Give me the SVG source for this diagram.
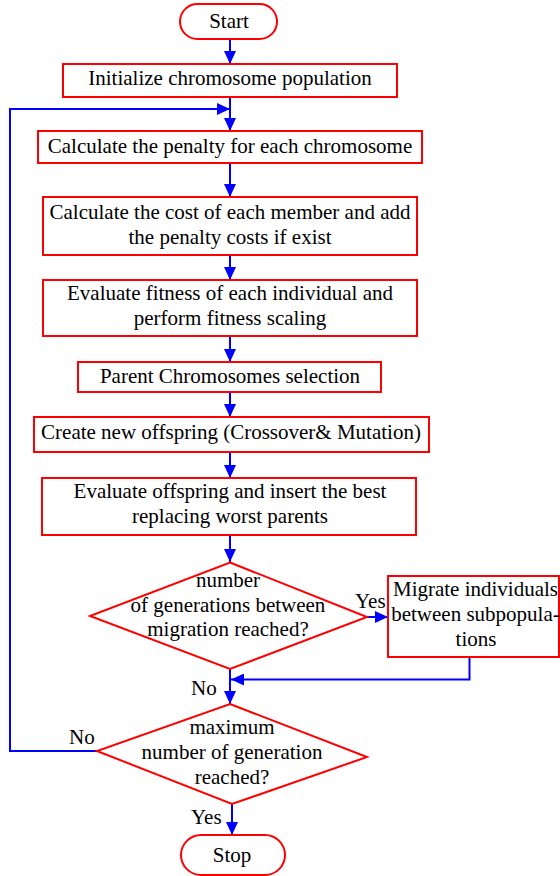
<svg xmlns="http://www.w3.org/2000/svg" width="560" height="876" viewBox="0 0 560 876" font-family="'Liberation Serif', 'Times New Roman', serif" font-size="21">
<style>
.n{fill:#fff;stroke:#f00;stroke-width:2}
.t{text-anchor:middle}
.c{fill:none;stroke:#00f;stroke-width:2}
</style>
<defs>
<marker id="ah" markerUnits="userSpaceOnUse" markerWidth="13" markerHeight="12" refX="13" refY="6" orient="auto">
<path d="M0,0 L13,6 L0,12 z" fill="#00f"/>
</marker>
</defs>
<rect width="560" height="876" fill="#fff"/>
<g id="connectors">
<line class="c" x1="230" y1="39" x2="230" y2="64" marker-end="url(#ah)"/>
<line class="c" x1="230" y1="97" x2="230" y2="131" marker-end="url(#ah)"/>
<polyline class="c" points="98,751 10,751 10,109 230,109" marker-end="url(#ah)"/>
<line class="c" x1="230" y1="163" x2="230" y2="197" marker-end="url(#ah)"/>
<line class="c" x1="230" y1="255" x2="230" y2="280" marker-end="url(#ah)"/>
<line class="c" x1="230" y1="336" x2="230" y2="362" marker-end="url(#ah)"/>
<line class="c" x1="230" y1="392" x2="230" y2="417" marker-end="url(#ah)"/>
<line class="c" x1="230" y1="452" x2="230" y2="478" marker-end="url(#ah)"/>
<line class="c" x1="230" y1="535" x2="230" y2="562" marker-end="url(#ah)"/>
<line class="c" x1="367" y1="617" x2="388" y2="617" marker-end="url(#ah)"/>
<polyline class="c" points="469.5,657 469.5,679.5 231,679.5" marker-end="url(#ah)"/>
<line class="c" x1="230" y1="669" x2="230" y2="704" marker-end="url(#ah)"/>
<line class="c" x1="232" y1="804" x2="232" y2="835" marker-end="url(#ah)"/>
<text x="355" y="608" font-family="Liberation Serif">Yes</text>
<text x="191" y="695" font-family="Liberation Serif">No</text>
<text x="69" y="744" font-family="Liberation Serif">No</text>
<text x="191" y="824" font-family="Liberation Serif">Yes</text>
</g>
<g id="start" font-family="Liberation Serif">
<rect class="n" x="180" y="4" width="97" height="35" rx="17.5"/>
<text class="t" x="229" y="28">Start</text>
</g>
<g id="init" font-family="Liberation Serif">
<rect class="n" x="63" y="64" width="334" height="33"/>
<text class="t" x="230" y="85">Initialize chromosome population</text>
</g>
<g id="penalty" font-family="Liberation Serif">
<rect class="n" x="38" y="131" width="384" height="32"/>
<text class="t" x="230" y="153">Calculate the penalty for each chromosome</text>
</g>
<g id="cost" font-family="Liberation Serif">
<rect class="n" x="43" y="197" width="374" height="58"/>
<text class="t" x="230" y="219">Calculate the cost of each member and add</text>
<text class="t" x="230" y="244">the penalty costs if exist</text>
</g>
<g id="fitness" font-family="Liberation Serif">
<rect class="n" x="43" y="280" width="374" height="56"/>
<text class="t" x="230" y="300">Evaluate fitness of each individual and</text>
<text class="t" x="230" y="325">perform fitness scaling</text>
</g>
<g id="parent" font-family="Liberation Serif">
<rect class="n" x="78" y="362" width="303" height="30"/>
<text class="t" x="230" y="383">Parent Chromosomes selection</text>
</g>
<g id="create" font-family="Liberation Serif">
<rect class="n" x="34" y="417" width="395" height="35"/>
<text class="t" x="231" y="439">Create new offspring (Crossover&amp; Mutation)</text>
</g>
<g id="evaloff" font-family="Liberation Serif">
<rect class="n" x="42" y="478" width="374" height="57"/>
<text class="t" x="230" y="498">Evaluate offspring and insert the best</text>
<text class="t" x="230" y="523">replacing worst parents</text>
</g>
<g id="decision1" font-family="Liberation Serif">
<polygon class="n" points="230,562.5 367,617 230,669 90,616"/>
<text class="t" x="228" y="587">number</text>
<text class="t" x="228" y="612">of generations between</text>
<text class="t" x="228" y="636">migration reached?</text>
</g>
<g id="migrate" font-family="Liberation Serif">
<rect class="n" x="388" y="576" width="171" height="81"/>
<text class="t" x="475.5" y="596">Migrate individuals</text>
<text class="t" x="475.5" y="621">between subpopula-</text>
<text class="t" x="476" y="646">tions</text>
</g>
<g id="decision2" font-family="Liberation Serif">
<polygon class="n" points="230,704 367,757 232,804 97,751"/>
<text class="t" x="232" y="734">maximum</text>
<text class="t" x="232" y="759">number of generation</text>
<text class="t" x="232" y="784">reached?</text>
</g>
<g id="stop" font-family="Liberation Serif">
<rect class="n" x="181" y="835" width="104" height="40" rx="20"/>
<text class="t" x="232" y="862">Stop</text>
</g>
</svg>
